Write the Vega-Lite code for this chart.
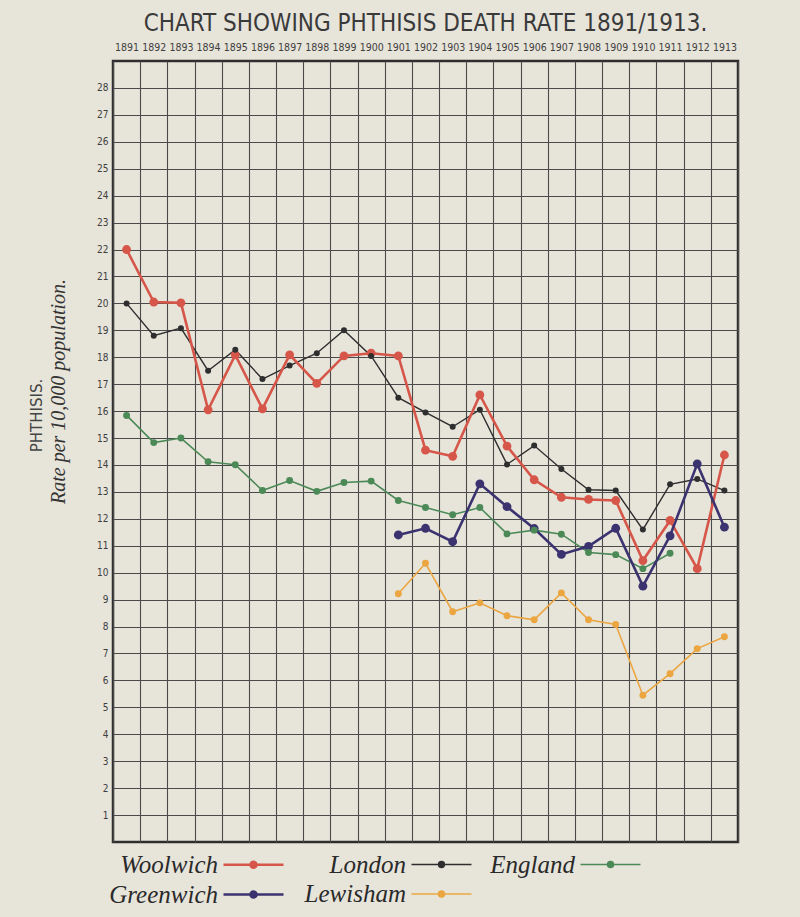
{
  "$schema": "https://vega.github.io/schema/vega-lite/v6.json",
  "width": 625,
  "height": 781,
  "autosize": {"type": "none"},
  "padding": {"left": 113, "top": 61, "right": 62, "bottom": 75},
  "background": "#e7e4da",
  "title": {
    "text": "CHART SHOWING PHTHISIS DEATH RATE 1891/1913.",
    "font": "DejaVu Sans Condensed",
    "fontSize": 24,
    "fontWeight": "normal",
    "color": "#3a3a3a",
    "frame": "group",
    "anchor": "middle",
    "offset": 6
  },
  "config": {
    "view": {"stroke": "#2e2e2e", "strokeWidth": 2.5},
    "axis": {
      "labelFont": "DejaVu Sans Condensed",
      "labelColor": "#3e3e3e",
      "labelFontSize": 10,
      "ticks": false,
      "domain": false,
      "gridColor": "#4a4a4a",
      "gridOpacity": 1,
      "gridWidth": 1.1
    }
  },
  "data": {
    "values": [
      {"series": "Lewisham", "year": 1901, "rate": 9.22},
      {"series": "Lewisham", "year": 1902, "rate": 10.35},
      {"series": "Lewisham", "year": 1903, "rate": 8.55},
      {"series": "Lewisham", "year": 1904, "rate": 8.88},
      {"series": "Lewisham", "year": 1905, "rate": 8.4},
      {"series": "Lewisham", "year": 1906, "rate": 8.25},
      {"series": "Lewisham", "year": 1907, "rate": 9.25},
      {"series": "Lewisham", "year": 1908, "rate": 8.25},
      {"series": "Lewisham", "year": 1909, "rate": 8.08},
      {"series": "Lewisham", "year": 1910, "rate": 5.45},
      {"series": "Lewisham", "year": 1911, "rate": 6.25},
      {"series": "Lewisham", "year": 1912, "rate": 7.18},
      {"series": "Lewisham", "year": 1913, "rate": 7.62},
      {"series": "England", "year": 1891, "rate": 15.84},
      {"series": "England", "year": 1892, "rate": 14.83},
      {"series": "England", "year": 1893, "rate": 15.0},
      {"series": "England", "year": 1894, "rate": 14.12},
      {"series": "England", "year": 1895, "rate": 14.01},
      {"series": "England", "year": 1896, "rate": 13.05},
      {"series": "England", "year": 1897, "rate": 13.42},
      {"series": "England", "year": 1898, "rate": 13.02},
      {"series": "England", "year": 1899, "rate": 13.35},
      {"series": "England", "year": 1900, "rate": 13.4},
      {"series": "England", "year": 1901, "rate": 12.68},
      {"series": "England", "year": 1902, "rate": 12.42},
      {"series": "England", "year": 1903, "rate": 12.15},
      {"series": "England", "year": 1904, "rate": 12.42},
      {"series": "England", "year": 1905, "rate": 11.44},
      {"series": "England", "year": 1906, "rate": 11.58},
      {"series": "England", "year": 1907, "rate": 11.43},
      {"series": "England", "year": 1908, "rate": 10.75},
      {"series": "England", "year": 1909, "rate": 10.67},
      {"series": "England", "year": 1910, "rate": 10.15},
      {"series": "England", "year": 1911, "rate": 10.72},
      {"series": "London", "year": 1891, "rate": 20.0},
      {"series": "London", "year": 1892, "rate": 18.8},
      {"series": "London", "year": 1893, "rate": 19.08},
      {"series": "London", "year": 1894, "rate": 17.5},
      {"series": "London", "year": 1895, "rate": 18.28},
      {"series": "London", "year": 1896, "rate": 17.19},
      {"series": "London", "year": 1897, "rate": 17.69},
      {"series": "London", "year": 1898, "rate": 18.15},
      {"series": "London", "year": 1899, "rate": 19.0},
      {"series": "London", "year": 1900, "rate": 18.05},
      {"series": "London", "year": 1901, "rate": 16.5},
      {"series": "London", "year": 1902, "rate": 15.95},
      {"series": "London", "year": 1903, "rate": 15.42},
      {"series": "London", "year": 1904, "rate": 16.05},
      {"series": "London", "year": 1905, "rate": 14.02},
      {"series": "London", "year": 1906, "rate": 14.72},
      {"series": "London", "year": 1907, "rate": 13.85},
      {"series": "London", "year": 1908, "rate": 13.08},
      {"series": "London", "year": 1909, "rate": 13.05},
      {"series": "London", "year": 1910, "rate": 11.6},
      {"series": "London", "year": 1911, "rate": 13.28},
      {"series": "London", "year": 1912, "rate": 13.48},
      {"series": "London", "year": 1913, "rate": 13.05},
      {"series": "Woolwich", "year": 1891, "rate": 22.0},
      {"series": "Woolwich", "year": 1892, "rate": 20.05},
      {"series": "Woolwich", "year": 1893, "rate": 20.02},
      {"series": "Woolwich", "year": 1894, "rate": 16.05},
      {"series": "Woolwich", "year": 1895, "rate": 18.09},
      {"series": "Woolwich", "year": 1896, "rate": 16.08},
      {"series": "Woolwich", "year": 1897, "rate": 18.09},
      {"series": "Woolwich", "year": 1898, "rate": 17.03},
      {"series": "Woolwich", "year": 1899, "rate": 18.05},
      {"series": "Woolwich", "year": 1900, "rate": 18.15},
      {"series": "Woolwich", "year": 1901, "rate": 18.05},
      {"series": "Woolwich", "year": 1902, "rate": 14.55},
      {"series": "Woolwich", "year": 1903, "rate": 14.32},
      {"series": "Woolwich", "year": 1904, "rate": 16.6},
      {"series": "Woolwich", "year": 1905, "rate": 14.7},
      {"series": "Woolwich", "year": 1906, "rate": 13.45},
      {"series": "Woolwich", "year": 1907, "rate": 12.8},
      {"series": "Woolwich", "year": 1908, "rate": 12.72},
      {"series": "Woolwich", "year": 1909, "rate": 12.68},
      {"series": "Woolwich", "year": 1910, "rate": 10.45},
      {"series": "Woolwich", "year": 1911, "rate": 11.94},
      {"series": "Woolwich", "year": 1912, "rate": 10.15},
      {"series": "Woolwich", "year": 1913, "rate": 14.37},
      {"series": "Greenwich", "year": 1901, "rate": 11.4},
      {"series": "Greenwich", "year": 1902, "rate": 11.65},
      {"series": "Greenwich", "year": 1903, "rate": 11.15},
      {"series": "Greenwich", "year": 1904, "rate": 13.3},
      {"series": "Greenwich", "year": 1905, "rate": 12.45},
      {"series": "Greenwich", "year": 1906, "rate": 11.64},
      {"series": "Greenwich", "year": 1907, "rate": 10.68},
      {"series": "Greenwich", "year": 1908, "rate": 10.98},
      {"series": "Greenwich", "year": 1909, "rate": 11.65},
      {"series": "Greenwich", "year": 1910, "rate": 9.5},
      {"series": "Greenwich", "year": 1911, "rate": 11.37},
      {"series": "Greenwich", "year": 1912, "rate": 14.04},
      {"series": "Greenwich", "year": 1913, "rate": 11.69}
    ]
  },
  "layer": [
    {
      "mark": {"type": "line"},
      "encoding": {
        "x": {
          "field": "year",
          "type": "ordinal",
          "scale": {"type": "band", "paddingInner": 0, "paddingOuter": 0},
          "axis": {
            "orient": "top",
            "title": null,
            "labelAngle": 0,
            "labelPadding": 9,
            "labelFontSize": 10.5,
            "tickBand": "extent",
            "grid": true
          }
        },
        "y": {
          "field": "rate",
          "type": "quantitative",
          "scale": {"domain": [0, 29], "nice": false, "zero": false},
          "axis": {
            "values": [1, 2, 3, 4, 5, 6, 7, 8, 9, 10, 11, 12, 13, 14, 15, 16, 17, 18, 19, 20, 21, 22, 23, 24, 25, 26, 27, 28],
            "grid": true,
            "labelPadding": 5,
            "title": "Rate per 10,000 population.",
            "titleFont": "Liberation Serif",
            "titleFontStyle": "italic",
            "titleFontWeight": "normal",
            "titleFontSize": 20,
            "titleColor": "#333333",
            "titlePadding": 28,
            "titleY": 330
          }
        },
        "color": {
          "field": "series",
          "type": "nominal",
          "scale": {
            "domain": ["Woolwich", "London", "England", "Greenwich", "Lewisham"],
            "range": ["#d6574a", "#2e2e2e", "#4b8a57", "#3b3370", "#eba641"]
          },
          "legend": {
            "orient": "none",
            "legendX": 124,
            "legendY": 787,
            "direction": "horizontal",
            "columns": 3,
            "title": null,
            "symbolType": "M-2,0H2M0.2,0A0.2,0.2 0 1 1 -0.2,0A0.2,0.2 0 1 1 0.2,0",
            "symbolSize": 900,
            "symbolStrokeWidth": 1.5,
            "labelFont": "Liberation Serif",
            "labelFontStyle": "italic",
            "labelFontSize": 25,
            "labelColor": "#2a2a2a",
            "labelAlign": "right",
            "labelOffset": -52,
            "labelLimit": 300,
            "columnPadding": 15,
            "rowPadding": 0,
            "encode": {
              "symbols": {
                "update": {
                  "size": {"value": 900},
                  "fill": {"scale": "color", "field": "value"},
                  "stroke": {"scale": "color", "field": "value"},
                  "strokeWidth": {"value": 1.5},
                  "opacity": {"value": 1}
                }
              }
            }
          }
        },
        "strokeWidth": {
          "field": "series",
          "type": "nominal",
          "scale": {
            "type": "ordinal",
            "domain": ["Woolwich", "London", "England", "Greenwich", "Lewisham"],
            "range": [2.6, 1.4, 1.6, 2.6, 1.6]
          },
          "legend": null
        }
      }
    },
    {
      "transform": [{"filter": {"field": "series", "oneOf": ["Woolwich", "Greenwich"]}}],
      "mark": {"type": "point", "filled": true, "opacity": 1, "size": 78},
      "encoding": {
        "x": {"field": "year", "type": "ordinal"},
        "y": {
          "field": "rate",
          "type": "quantitative",
          "axis": {
            "orient": "left",
            "labels": false,
            "grid": false,
            "title": "PHTHISIS.",
            "titleFont": "DejaVu Sans",
            "titleFontWeight": "normal",
            "titleFontSize": 15,
            "titleColor": "#444444",
            "titlePadding": 69,
            "titleY": 354
          }
        },
        "color": {"field": "series", "type": "nominal"}
      }
    },
    {
      "transform": [{"filter": {"field": "series", "oneOf": ["England", "Lewisham"]}}],
      "mark": {"type": "point", "filled": true, "opacity": 1, "size": 48},
      "encoding": {
        "x": {"field": "year", "type": "ordinal"},
        "y": {"field": "rate", "type": "quantitative", "axis": null},
        "color": {"field": "series", "type": "nominal"}
      }
    },
    {
      "transform": [{"filter": {"field": "series", "equal": "London"}}],
      "mark": {"type": "point", "filled": true, "opacity": 1, "size": 36},
      "encoding": {
        "x": {"field": "year", "type": "ordinal"},
        "y": {"field": "rate", "type": "quantitative", "axis": null},
        "color": {"field": "series", "type": "nominal"}
      }
    }
  ],
  "resolve": {"axis": {"y": "independent"}}
}
